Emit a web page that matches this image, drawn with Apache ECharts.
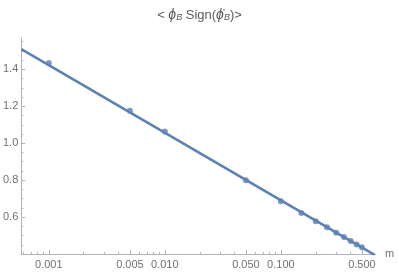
<!DOCTYPE html>
<html><head><meta charset="utf-8">
<script src="https://cdn.jsdelivr.net/npm/echarts@6/dist/echarts.min.js"></script>
<style>html,body{margin:0;padding:0;background:#fff}#c{width:399px;height:273px}</style>
</head><body><div id="c"></div>
<script>
// Data
var mValues = [0.001, 0.005, 0.01, 0.05, 0.1, 0.15, 0.2, 0.25, 0.3, 0.35, 0.4, 0.45, 0.5];
var phiValues = [1.435, 1.176, 1.064, 0.800, 0.686, 0.622, 0.578, 0.545, 0.515, 0.492, 0.470, 0.452, 0.436];
// fit: y = fitA + fitB * log10(m)
var fitA = 0.325;
var fitB = -0.366;
var xTickValues = [0.001, 0.005, 0.01, 0.05, 0.1, 0.5];
var xTickLabels = ['0.001', '0.005', '0.010', '0.050', '0.100', '0.500'];
var xMinorTickValues = [0.0006,0.0007,0.0008,0.0009,0.002,0.003,0.004,0.006,0.007,0.008,0.009,0.02,0.03,0.04,0.06,0.07,0.08,0.09,0.2,0.3,0.4,0.6];
var yTickValues = [0.6, 0.8, 1.0, 1.2, 1.4];
var yTickLabels = ['0.6', '0.8', '1.0', '1.2', '1.4'];
var yMinorTickValues = [0.45,0.5,0.55,0.65,0.7,0.75,0.85,0.9,0.95,1.05,1.1,1.15,1.25,1.3,1.35,1.45,1.5,1.55];
var mMin = 0.000579, mMax = 0.648;
var yMin = 0.4, yMax = 1.57;

var L = Math.log10;
var xMin = L(mMin), xMax = L(mMax);
var blue = '#5e81b5';
var axisCol = '#b3b3b3';
var labCol = '#707070';

var chart = echarts.init(document.getElementById('c'), null, {renderer: 'canvas'});
var pts = mValues.map(function (m, i) { return [L(m), phiValues[i]]; });
var fitLine = [[xMin, fitA + fitB * xMin], [xMax, fitA + fitB * xMax]];

function xFmt(v) {
  for (var i = 0; i < xTickValues.length; i++) if (Math.abs(L(xTickValues[i]) - v) < 1e-6) return xTickLabels[i];
  return '';
}
function yFmt(v) {
  for (var i = 0; i < yTickValues.length; i++) if (Math.abs(yTickValues[i] - v) < 1e-6) return yTickLabels[i];
  return '';
}
var font = 'Liberation Sans, Arial, sans-serif';
chart.setOption({
  animation: false,
  title: {
    text: '< {i|ϕ}{s|B} Sign({i|ϕ̇}{s|B})>',
    left: 'center', top: 3,
    textStyle: {
      color: '#5a5a5a', fontSize: 13, fontWeight: 'normal', fontFamily: font,
      rich: {
        i: {fontStyle: 'italic', fontSize: 14, color: '#5a5a5a', fontFamily: font},
        s: {fontStyle: 'italic', fontSize: 9, color: '#5a5a5a', fontFamily: font, padding: [5, 0, 0, 0]}
      }
    }
  },
  grid: {left: 19, right: 24, top: 38, bottom: 19, containLabel: false},
  xAxis: [{
    type: 'value', min: xMin, max: xMax,
    name: 'm', nameLocation: 'end', nameGap: 10,
    nameTextStyle: {color: labCol, fontSize: 11, fontFamily: font, verticalAlign: 'middle'},
    axisLine: {show: true, lineStyle: {color: axisCol, width: 1}},
    axisTick: {show: true, inside: true, length: 4, lineStyle: {color: axisCol}, customValues: xTickValues.map(L)},
    axisLabel: {color: labCol, fontSize: 11, fontFamily: font, margin: 5, customValues: xTickValues.map(L), formatter: xFmt},
    splitLine: {show: false}
  }, {
    type: 'value', min: xMin, max: xMax, position: 'bottom',
    axisLine: {show: false},
    axisTick: {show: true, inside: true, length: 2, lineStyle: {color: axisCol}, customValues: xMinorTickValues.map(L)},
    axisLabel: {show: false},
    splitLine: {show: false}
  }],
  yAxis: [{
    type: 'value', min: yMin, max: yMax,
    axisLine: {show: true, lineStyle: {color: axisCol, width: 1}},
    axisTick: {show: true, inside: true, length: 4, lineStyle: {color: axisCol}, customValues: yTickValues},
    axisLabel: {color: labCol, fontSize: 11, fontFamily: font, margin: 3, customValues: yTickValues, formatter: yFmt},
    splitLine: {show: false}
  }, {
    type: 'value', min: yMin, max: yMax, position: 'left',
    axisLine: {show: false},
    axisTick: {show: true, inside: true, length: 2, lineStyle: {color: axisCol}, customValues: yMinorTickValues},
    axisLabel: {show: false},
    splitLine: {show: false}
  }],
  series: [{
    type: 'line', data: fitLine, showSymbol: false, symbol: 'none',
    lineStyle: {color: blue, width: 2.6}, clip: true, z: 2
  }, {
    type: 'scatter', data: pts, symbolSize: 6,
    itemStyle: {color: blue}, clip: true, z: 3
  }]
});
</script></body></html>
